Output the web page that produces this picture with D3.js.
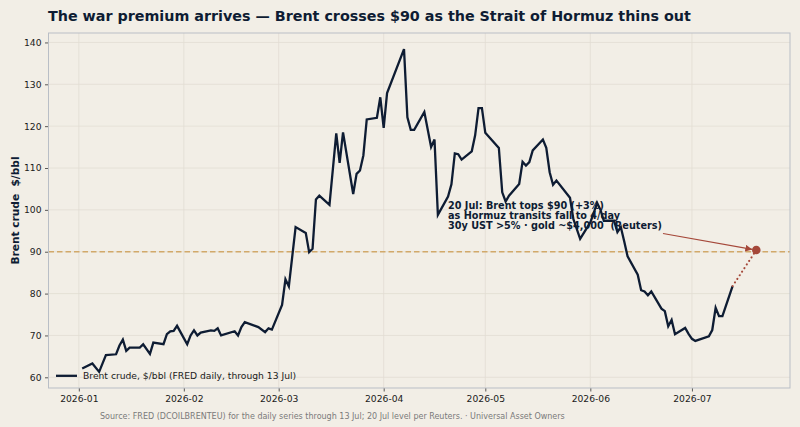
<!DOCTYPE html>
<html>
<head>
<meta charset="utf-8">
<script src="https://cdn.jsdelivr.net/npm/d3@7"></script>
<style>
  html, body { margin: 0; padding: 0; background: #f2eee6; }
  svg { display: block; font-family: "DejaVu Sans", sans-serif; }
  svg text { white-space: pre; }
</style>
</head>
<body>
<svg id="chart" width="800" height="427"></svg>
<script>
// Brent daily closes (FRED DCOILBRENTEU)
const dates = [
  "2026-01-02","2026-01-05","2026-01-07","2026-01-09","2026-01-12","2026-01-13","2026-01-14","2026-01-15","2026-01-16",
  "2026-01-19","2026-01-20","2026-01-22","2026-01-23","2026-01-26","2026-01-27","2026-01-28","2026-01-29","2026-01-30",
  "2026-02-02","2026-02-03","2026-02-04","2026-02-05","2026-02-06","2026-02-09","2026-02-10","2026-02-11","2026-02-12",
  "2026-02-16","2026-02-17","2026-02-18","2026-02-19","2026-02-23","2026-02-25","2026-02-26","2026-02-27",
  "2026-03-02","2026-03-03","2026-03-04","2026-03-06","2026-03-09","2026-03-10","2026-03-11","2026-03-12","2026-03-13",
  "2026-03-16","2026-03-18","2026-03-19","2026-03-20","2026-03-23","2026-03-24","2026-03-25","2026-03-26","2026-03-27",
  "2026-03-30","2026-03-31","2026-04-01","2026-04-02","2026-04-07","2026-04-08","2026-04-09","2026-04-10","2026-04-13",
  "2026-04-15","2026-04-16","2026-04-17","2026-04-20","2026-04-21","2026-04-22","2026-04-23","2026-04-24","2026-04-27",
  "2026-04-28","2026-04-29","2026-04-30","2026-05-01","2026-05-05","2026-05-06","2026-05-07","2026-05-08","2026-05-11",
  "2026-05-12","2026-05-13","2026-05-14","2026-05-15","2026-05-18","2026-05-19","2026-05-20","2026-05-21","2026-05-22",
  "2026-05-26","2026-05-27","2026-05-29","2026-06-01","2026-06-02","2026-06-03","2026-06-04","2026-06-05","2026-06-08",
  "2026-06-09","2026-06-10","2026-06-11","2026-06-12","2026-06-15","2026-06-16","2026-06-17","2026-06-18","2026-06-19",
  "2026-06-22","2026-06-23","2026-06-24","2026-06-25","2026-06-26","2026-06-29","2026-06-30","2026-07-01","2026-07-02",
  "2026-07-06","2026-07-07","2026-07-08","2026-07-09","2026-07-10","2026-07-13"
];
const brent = [
  62.1, 63.3, 61.3, 65.3, 65.5, 67.6, 69.0, 66.3, 67.1,
  67.1, 67.9, 65.6, 68.3, 67.9, 70.3, 71.0, 71.1, 72.3,
  67.9, 70.0, 71.2, 70.0, 70.7, 71.2, 71.1, 71.7, 70.0,
  71.0, 70.0, 72.0, 73.2, 72.0, 70.8, 71.7, 71.4,
  77.3, 83.4, 81.7, 95.9, 94.5, 89.9, 90.7, 102.5, 103.4,
  101.2, 118.3, 111.2, 118.5, 103.8, 108.6, 109.4, 113.0, 121.6,
  122.0, 126.9, 119.6, 127.9, 138.4, 122.1, 119.1, 119.1, 123.4,
  115.0, 116.8, 98.8, 103.2, 106.1, 113.5, 113.3, 112.0, 114.0,
  117.8, 124.3, 124.3, 118.4, 114.8, 104.2, 102.0, 103.4, 106.2,
  111.5, 110.6, 111.4, 114.2, 116.8, 114.8, 109.0, 106.0, 107.0,
  102.9, 97.8, 93.1, 97.0, 99.2, 101.7, 100.0, 97.4, 97.4,
  94.7, 95.9, 92.5, 88.9, 84.5, 80.8, 80.5, 79.6, 80.5,
  76.4, 75.8, 72.2, 73.7, 70.3, 71.8, 70.4, 69.2, 68.7,
  69.8, 71.3, 76.6, 74.6, 74.6, 81.8
];

// 20 Jul level per Reuters
const reutersDate = "2026-07-20";
const reutersValue = 90.4;
const thresholdValue = 90;

const yTicks = [60, 70, 80, 90, 100, 110, 120, 130, 140];

const annotationLines = [
  "20 Jul: Brent tops $90 (+3%)",
  "as Hormuz transits fall to 4/day",
  "30y UST >5% \u00b7 gold ~$4,000  (Reuters)"
];

const parse = d3.timeParse("%Y-%m-%d");
const series = dates.map((d, i) => ({ date: parse(d), value: brent[i] }));
const reuters = { date: parse(reutersDate), value: reutersValue };

const svg = d3.select("#chart");
const W = 800, H = 427;
const margin = { top: 33, right: 10, bottom: 39, left: 48.5 };
const plotW = W - margin.left - margin.right;
const plotH = H - margin.top - margin.bottom;

// colours
const navy = "#0e1c33";
const rust = "#a5483a";
const gold = "#d2a96a";

// domains padded 5% like the original
const allDates = series.map(d => d.date).concat([reuters.date]);
const allVals = series.map(d => d.value).concat([reuters.value]);
const [t0, t1] = d3.extent(allDates);
const tPad = (t1 - t0) * 0.05;
const [v0, v1] = d3.extent(allVals);
const vPad = (v1 - v0) * 0.05;

const x = d3.scaleTime()
  .domain([new Date(+t0 - tPad), new Date(+t1 + tPad)])
  .range([margin.left, margin.left + plotW]);
const y = d3.scaleLinear()
  .domain([v0 - vPad, v1 + vPad])
  .range([margin.top + plotH, margin.top]);

// plot background
svg.append("rect")
  .attr("x", margin.left).attr("y", margin.top)
  .attr("width", plotW).attr("height", plotH)
  .attr("fill", "#f2eee6");

// grid
const monthTicks = d3.timeMonth.range(d3.timeMonth.ceil(x.domain()[0]), x.domain()[1]);
svg.append("g")
  .selectAll("line.vg")
  .data(monthTicks)
  .enter().append("line")
  .attr("x1", d => x(d)).attr("x2", d => x(d))
  .attr("y1", margin.top).attr("y2", margin.top + plotH)
  .attr("stroke", "#e2ddd3").attr("stroke-width", 0.8);
svg.append("g")
  .selectAll("line.hg")
  .data(yTicks)
  .enter().append("line")
  .attr("x1", margin.left).attr("x2", margin.left + plotW)
  .attr("y1", d => y(d)).attr("y2", d => y(d))
  .attr("stroke", "#e2ddd3").attr("stroke-width", 0.8);

// $90 threshold
svg.append("line")
  .attr("x1", margin.left).attr("x2", margin.left + plotW)
  .attr("y1", y(thresholdValue)).attr("y2", y(thresholdValue))
  .attr("stroke", gold).attr("stroke-width", 1.4)
  .attr("stroke-dasharray", "5.5,3");

// main line
const line = d3.line().x(d => x(d.date)).y(d => y(d.value));
svg.append("path")
  .datum(series)
  .attr("d", line)
  .attr("fill", "none")
  .attr("stroke", navy)
  .attr("stroke-width", 2.3)
  .attr("stroke-linejoin", "miter");

// dotted bridge to the Reuters level
const last = series[series.length - 1];
svg.append("path")
  .datum([last, reuters])
  .attr("d", line)
  .attr("fill", "none")
  .attr("stroke", rust)
  .attr("stroke-width", 2)
  .attr("stroke-linecap", "round")
  .attr("stroke-dasharray", "0.1,4.2");

svg.append("circle")
  .attr("cx", x(reuters.date)).attr("cy", y(reuters.value))
  .attr("r", 4.3)
  .attr("fill", rust);

// annotation text + arrow
const annX = 448, annY = 209;
const ann = svg.append("text")
  .attr("x", annX).attr("y", annY)
  .attr("font-size", 9.7).attr("font-weight", "bold")
  .attr("fill", navy);
annotationLines.forEach((s, i) => {
  ann.append("tspan").attr("x", annX).attr("dy", i === 0 ? 0 : 10.2).text(s);
});

svg.append("defs").append("marker")
  .attr("id", "arrowhead")
  .attr("viewBox", "0 0 10 10")
  .attr("refX", 10).attr("refY", 5)
  .attr("markerWidth", 7).attr("markerHeight", 7)
  .attr("markerUnits", "userSpaceOnUse")
  .attr("orient", "auto")
  .append("path").attr("d", "M0,0 L10,5 L0,10 z").attr("fill", rust);

svg.append("line")
  .attr("x1", 663).attr("y1", 233.5)
  .attr("x2", x(reuters.date) - 4).attr("y2", y(reuters.value) - 0.6)
  .attr("stroke", rust).attr("stroke-width", 1.2)
  .attr("marker-end", "url(#arrowhead)");

// axes
const xAxis = d3.axisBottom(x)
  .ticks(d3.timeMonth.every(1))
  .tickFormat(d3.timeFormat("%Y-%m"))
  .tickSize(3.5).tickPadding(3.5);
const gx = svg.append("g")
  .attr("transform", `translate(0,${margin.top + plotH})`)
  .call(xAxis);
gx.select(".domain").remove();

const yAxis = d3.axisLeft(y)
  .tickValues(yTicks)
  .tickSize(3.5).tickPadding(3.5);
const gy = svg.append("g")
  .attr("transform", `translate(${margin.left},0)`)
  .call(yAxis);
gy.select(".domain").remove();

svg.selectAll(".tick text")
  .attr("font-family", "DejaVu Sans").attr("font-size", 9.2)
  .attr("fill", "#1a1a1a");
svg.selectAll(".tick line").attr("stroke", "#333").attr("stroke-width", 0.8);

// frame
svg.append("rect")
  .attr("x", margin.left).attr("y", margin.top)
  .attr("width", plotW).attr("height", plotH)
  .attr("fill", "none")
  .attr("stroke", "#b9bec6").attr("stroke-width", 1);

// legend
const legY = y(60) - 1.5;
svg.append("line")
  .attr("x1", 56).attr("x2", 77)
  .attr("y1", legY).attr("y2", legY)
  .attr("stroke", navy).attr("stroke-width", 2.3);
svg.append("text")
  .attr("x", 83).attr("y", legY + 3.3)
  .attr("font-size", 9.2).attr("fill", "#1a1a1a")
  .text("Brent crude, $/bbl (FRED daily, through 13 Jul)");

// y label
svg.append("text")
  .attr("transform", `translate(19,${margin.top + plotH / 2}) rotate(-90)`)
  .attr("text-anchor", "middle")
  .attr("font-size", 10.6).attr("font-weight", "bold")
  .attr("fill", navy)
  .text("Brent crude  $/bbl");

// title
svg.append("text")
  .attr("x", 48).attr("y", 21)
  .attr("font-size", 14.3).attr("font-weight", "bold")
  .attr("fill", navy)
  .text("The war premium arrives \u2014 Brent crosses $90 as the Strait of Hormuz thins out");

// footer
svg.append("text")
  .attr("x", 100).attr("y", 419)
  .attr("font-size", 8).attr("fill", "#7a7a7a")
  .text("Source: FRED (DCOILBRENTEU) for the daily series through 13 Jul; 20 Jul level per Reuters. \u00b7 Universal Asset Owners");
</script>
</body>
</html>
